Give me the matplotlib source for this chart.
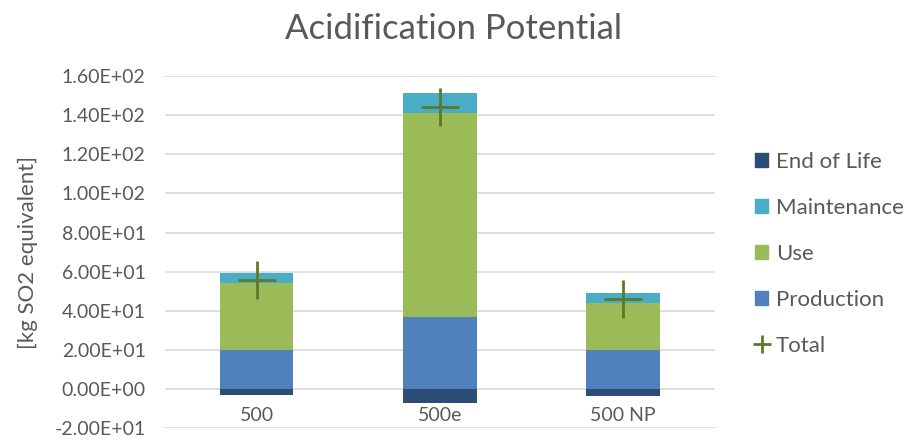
import matplotlib.pyplot as plt
import numpy as np
from matplotlib.patches import Patch
from matplotlib.lines import Line2D
from matplotlib.ticker import FuncFormatter

plt.rcParams['font.family'] = ['Lato', 'DejaVu Sans']

# values [kg SO2 equivalent]
categories = ['500', '500e', '500 NP']
production = [19.7, 36.8, 20.1]
use = [34.3, 104.4, 23.9]
maintenance = [5.1, 10.0, 5.1]
end_of_life = [-3.2, -7.2, -3.4]
total = [55.9, 144.0, 45.8]

c_prod = '#4F81BD'
c_use = '#9BBB59'
c_maint = '#4BACC6'
c_eol = '#2C4D75'
c_total = '#5A7A2A'
grey = '#595959'

x = np.arange(len(categories))
w = 0.4

fig = plt.figure(figsize=(9.07, 4.4), dpi=100)
ax = fig.add_axes([0.182, 0.027, 0.606, 0.8])

prod = np.array(production)
usev = np.array(use)
ax.bar(x, prod, w, color=c_prod, zorder=2)
ax.bar(x, usev, w, bottom=prod, color=c_use, zorder=2)
ax.bar(x, maintenance, w, bottom=prod + usev, color=c_maint, zorder=2)
ax.bar(x, end_of_life, w, color=c_eol, zorder=2)
ax.plot(x, total, linestyle='none', marker='+', markersize=27,
        markeredgewidth=2, color=c_total, zorder=3)

ax.set_xlim(-0.5, 2.5)
ax.set_ylim(-20, 160)
ax.set_yticks(np.arange(-20, 161, 20))
ax.yaxis.set_major_formatter(FuncFormatter(lambda v, p: f'{v:.2E}'))
ax.grid(axis='y', color='#D9D9D9', linewidth=1.2, zorder=0)
ax.set_axisbelow(True)

ax.set_xticks(x)
ax.set_xticklabels(categories)
ax.spines['bottom'].set_position(('data', 0))
for s in ['top', 'right', 'left', 'bottom']:
    ax.spines[s].set_visible(False)
ax.tick_params(axis='both', length=0, labelsize=14, labelcolor=grey)
ax.tick_params(axis='x', pad=13)
ax.tick_params(axis='y', pad=14)

ax.set_ylabel('[kg SO2 equivalent]', fontsize=16, color=grey, labelpad=12)
fig.suptitle('Acidification Potential', fontsize=25, color=grey, y=0.97)

handles = [Patch(color=c_eol), Patch(color=c_maint), Patch(color=c_use),
           Patch(color=c_prod),
           Line2D([], [], linestyle='none', marker='+', markersize=13,
                  markeredgewidth=2, color=c_total)]
labels = ['End of Life', 'Maintenance', 'Use', 'Production', 'Total']
leg = fig.legend(handles, labels, loc='upper left', bbox_to_anchor=(0.82, 0.68),
                 frameon=False, fontsize=16, labelcolor=grey,
                 handlelength=0.6, handleheight=0.6, handletextpad=0.35,
                 labelspacing=1.17, borderpad=0)

fig.savefig('out.png', dpi=100)
